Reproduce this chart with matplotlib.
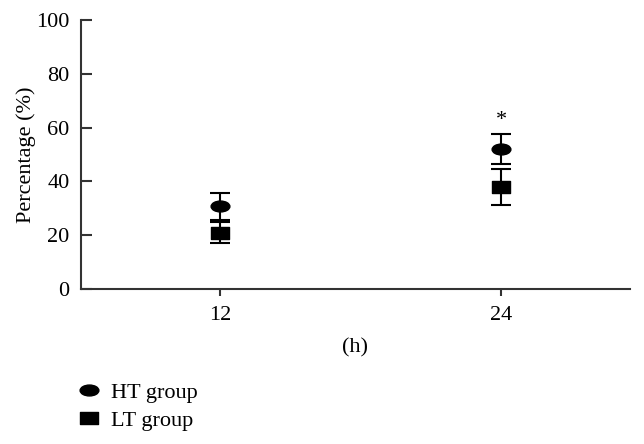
import numpy as np
import matplotlib.pyplot as plt
from matplotlib.path import Path
from matplotlib.transforms import Affine2D

plt.rcParams['font.family'] = ['Liberation Serif', 'DejaVu Serif']

horas = [12, 24]
ht_media = [30.7, 51.9]
ht_erro = [5.0, 5.6]
lt_media = [21.0, 37.8]
lt_erro = [3.8, 6.7]
estrela = [(24, 62.5)]

# marcadores achatados (elipse e retangulo)
elipse = Path.unit_circle().transformed(Affine2D().scale(1.0, 0.58))
retangulo = Path([(-1, -0.62), (1, -0.62), (1, 0.62), (-1, 0.62), (-1, -0.62)],
                 [Path.MOVETO, Path.LINETO, Path.LINETO, Path.LINETO, Path.CLOSEPOLY])

fig = plt.figure(figsize=(6.44, 4.44), dpi=100)
ax = fig.add_axes([0.1253, 0.349, 0.8527, 0.606])

ax.errorbar(horas, ht_media, yerr=ht_erro, fmt='none', ecolor='black',
            elinewidth=1.5, capsize=7.5, capthick=1.5, zorder=2)
ax.errorbar(horas, lt_media, yerr=lt_erro, fmt='none', ecolor='black',
            elinewidth=1.5, capsize=7.5, capthick=1.5, zorder=2)
ax.plot(horas, ht_media, linestyle='none', marker=elipse, markersize=13.5,
        color='black', label='HT group', zorder=3)
ax.plot(horas, lt_media, linestyle='none', marker=retangulo, markersize=13.5,
        color='black', label='LT group', zorder=3)

for x, y in estrela:
    ax.text(x, y, '*', ha='center', va='center', fontsize=16)

ax.set_xlim(6.05, 29.5)
ax.set_ylim(0, 100)
ax.set_xticks(horas)
ax.set_yticks([0, 20, 40, 60, 80, 100])
ax.tick_params(axis='y', direction='in', length=8, width=1.5, labelsize=16, pad=8, colors='#333333', labelcolor='black')
ax.tick_params(axis='x', direction='out', length=5, width=1.5, labelsize=16, pad=7, colors='#333333', labelcolor='black')

for lado in ['top', 'right']:
    ax.spines[lado].set_visible(False)
for lado in ['left', 'bottom']:
    ax.spines[lado].set_linewidth(1.5)
    ax.spines[lado].set_color('#333333')

ax.set_xlabel('(h)', fontsize=16, labelpad=10)
ax.set_ylabel('Percentage (%)', fontsize=16, labelpad=0)

fig.legend(loc='upper left', bbox_to_anchor=(0.1, 0.164), frameon=False,
           fontsize=16, handlelength=1.2, handletextpad=0.4, labelspacing=0.35,
           borderpad=0)

fig.savefig('out.png', dpi=100)
